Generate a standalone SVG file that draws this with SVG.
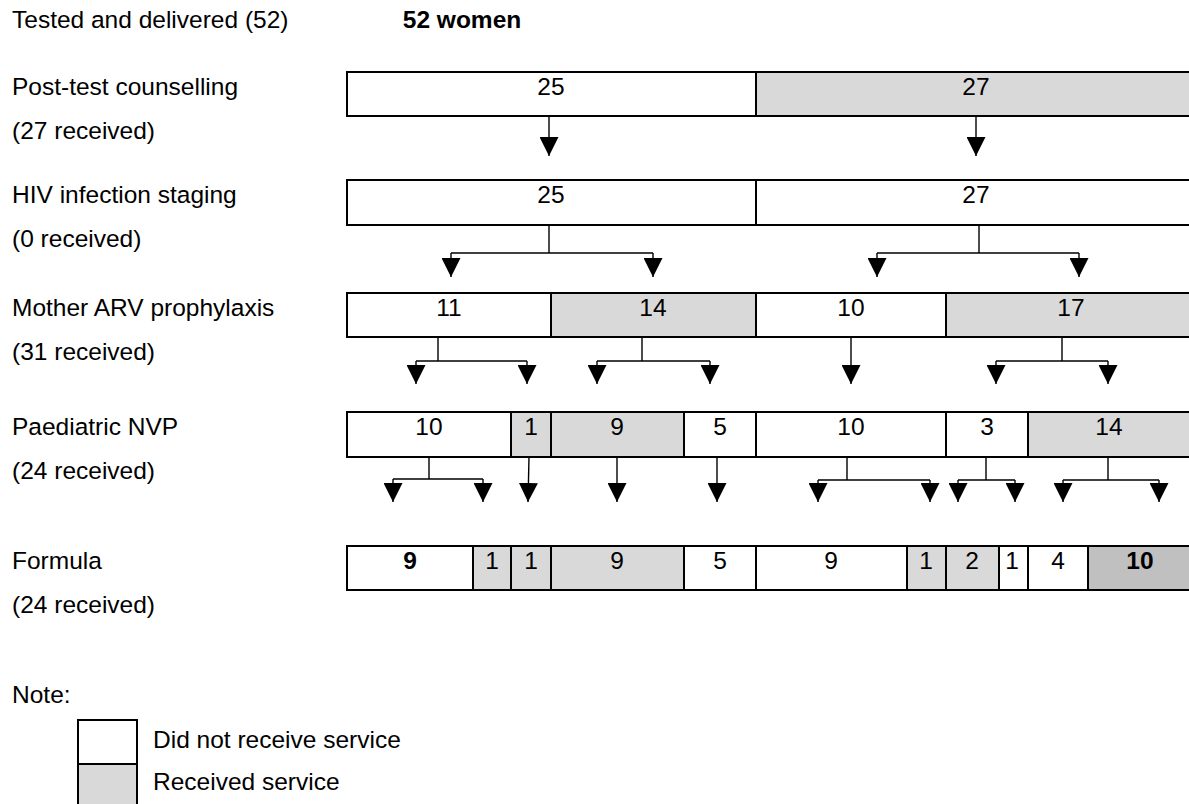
<svg xmlns="http://www.w3.org/2000/svg" width="1189" height="804" viewBox="0 0 1189 804">
<style>
text{font-family:"Liberation Sans",Arial,sans-serif;font-size:24.5px;fill:#000}
.n{text-anchor:middle}
.b{font-weight:bold}
.w{fill:#fff;stroke:#000;stroke-width:2}
.g{fill:#d9d9d9;stroke:#000;stroke-width:2}
.d{fill:#c0c0c0;stroke:#000;stroke-width:2}
.c{fill:none;stroke:#000;stroke-width:1.4}
</style>
<defs>
<marker id="ah" viewBox="0 0 10 10" refX="10" refY="5" markerWidth="19" markerHeight="19" markerUnits="userSpaceOnUse" orient="auto">
<path d="M0,0 L10,5 L0,10 z" fill="#000"/>
</marker>
</defs>
<rect width="1189" height="804" fill="#fff"/>
<g id="labels">
<text x="12" y="28">Tested and delivered (52)</text>
<text x="462" y="28" class="n b">52 women</text>
<text x="12" y="95">Post-test counselling</text>
<text x="12" y="139">(27 received)</text>
<text x="12" y="203">HIV infection staging</text>
<text x="12" y="247">(0 received)</text>
<text x="12" y="316">Mother ARV prophylaxis</text>
<text x="12" y="360">(31 received)</text>
<text x="12" y="435">Paediatric NVP</text>
<text x="12" y="479">(24 received)</text>
<text x="12" y="569">Formula</text>
<text x="12" y="613">(24 received)</text>
<text x="12" y="703">Note:</text>
</g>
<g id="row1">
<rect class="w" x="347" y="72" width="409" height="44"/>
<rect class="g" x="756" y="72" width="440" height="44"/>
<text class="n" x="551" y="95">25</text>
<text class="n" x="976" y="95">27</text>
</g>
<g id="row2">
<rect class="w" x="347" y="180" width="409" height="45"/>
<rect class="w" x="756" y="180" width="440" height="45"/>
<text class="n" x="551" y="203">25</text>
<text class="n" x="976" y="203">27</text>
</g>
<g id="row3">
<rect class="w" x="347" y="293" width="204" height="44"/>
<rect class="g" x="551" y="293" width="205" height="44"/>
<rect class="w" x="756" y="293" width="190" height="44"/>
<rect class="g" x="946" y="293" width="250" height="44"/>
<text class="n" x="449" y="316">11</text>
<text class="n" x="653" y="316">14</text>
<text class="n" x="851" y="316">10</text>
<text class="n" x="1071" y="316">17</text>
</g>
<g id="row4">
<rect class="w" x="347" y="412" width="164" height="45"/>
<rect class="g" x="511" y="412" width="40" height="45"/>
<rect class="g" x="551" y="412" width="133" height="45"/>
<rect class="w" x="684" y="412" width="72" height="45"/>
<rect class="w" x="756" y="412" width="190" height="45"/>
<rect class="w" x="946" y="412" width="82" height="45"/>
<rect class="g" x="1028" y="412" width="168" height="45"/>
<text class="n" x="429" y="435">10</text>
<text class="n" x="531" y="435">1</text>
<text class="n" x="617" y="435">9</text>
<text class="n" x="720" y="435">5</text>
<text class="n" x="851" y="435">10</text>
<text class="n" x="987" y="435">3</text>
<text class="n" x="1109" y="435">14</text>
</g>
<g id="row5">
<rect class="w" x="347" y="546" width="126" height="44"/>
<rect class="g" x="473" y="546" width="38" height="44"/>
<rect class="g" x="511" y="546" width="40" height="44"/>
<rect class="g" x="551" y="546" width="133" height="44"/>
<rect class="w" x="684" y="546" width="72" height="44"/>
<rect class="w" x="756" y="546" width="151" height="44"/>
<rect class="g" x="907" y="546" width="39" height="44"/>
<rect class="g" x="946" y="546" width="53" height="44"/>
<rect class="w" x="999" y="546" width="29" height="44"/>
<rect class="w" x="1028" y="546" width="60" height="44"/>
<rect class="d" x="1088" y="546" width="108" height="44"/>
<text class="n b" x="410" y="569">9</text>
<text class="n" x="492" y="569">1</text>
<text class="n" x="531" y="569">1</text>
<text class="n" x="617" y="569">9</text>
<text class="n" x="720" y="569">5</text>
<text class="n" x="831" y="569">9</text>
<text class="n" x="926" y="569">1</text>
<text class="n" x="972" y="569">2</text>
<text class="n" x="1012" y="569">1</text>
<text class="n" x="1058" y="569">4</text>
<text class="n b" x="1140" y="569">10</text>
</g>
<g id="connectors">
<path class="c" marker-end="url(#ah)" d="M549,116 V156"/>
<path class="c" marker-end="url(#ah)" d="M976,116 V156"/>
<path class="c" d="M549,225 V253 M451,253 H653 M979,225 V253 M877,253 H1079"/>
<path class="c" marker-end="url(#ah)" d="M451,253 V277"/>
<path class="c" marker-end="url(#ah)" d="M653,253 V277"/>
<path class="c" marker-end="url(#ah)" d="M877,253 V277"/>
<path class="c" marker-end="url(#ah)" d="M1079,253 V277"/>
<path class="c" d="M438,337 V361 M416,361 H527 M642,337 V361 M597,361 H710 M1062,337 V361 M996,361 H1108"/>
<path class="c" marker-end="url(#ah)" d="M416,361 V384"/>
<path class="c" marker-end="url(#ah)" d="M527,361 V384"/>
<path class="c" marker-end="url(#ah)" d="M597,361 V384"/>
<path class="c" marker-end="url(#ah)" d="M710,361 V384"/>
<path class="c" marker-end="url(#ah)" d="M851,337 V384"/>
<path class="c" marker-end="url(#ah)" d="M996,361 V384"/>
<path class="c" marker-end="url(#ah)" d="M1108,361 V384"/>
<path class="c" d="M429,457 V479 M393,479 H483 M847,457 V480 M818,480 H930 M986,457 V480 M958,480 H1015 M1108,457 V480 M1063,480 H1159"/>
<path class="c" marker-end="url(#ah)" d="M393,479 V502"/>
<path class="c" marker-end="url(#ah)" d="M483,479 V502"/>
<path class="c" marker-end="url(#ah)" d="M529,457 L528,502"/>
<path class="c" marker-end="url(#ah)" d="M617,457 V502"/>
<path class="c" marker-end="url(#ah)" d="M717,457 V502"/>
<path class="c" marker-end="url(#ah)" d="M818,480 V502"/>
<path class="c" marker-end="url(#ah)" d="M930,480 V502"/>
<path class="c" marker-end="url(#ah)" d="M958,480 V502"/>
<path class="c" marker-end="url(#ah)" d="M1015,480 V502"/>
<path class="c" marker-end="url(#ah)" d="M1063,480 V502"/>
<path class="c" marker-end="url(#ah)" d="M1159,480 V502"/>
</g>
<g id="legend">
<rect class="w" x="78" y="720" width="59" height="44"/>
<rect class="g" x="78" y="764" width="59" height="44"/>
<text x="153" y="748">Did not receive service</text>
<text x="153" y="790">Received service</text>
</g>
</svg>
